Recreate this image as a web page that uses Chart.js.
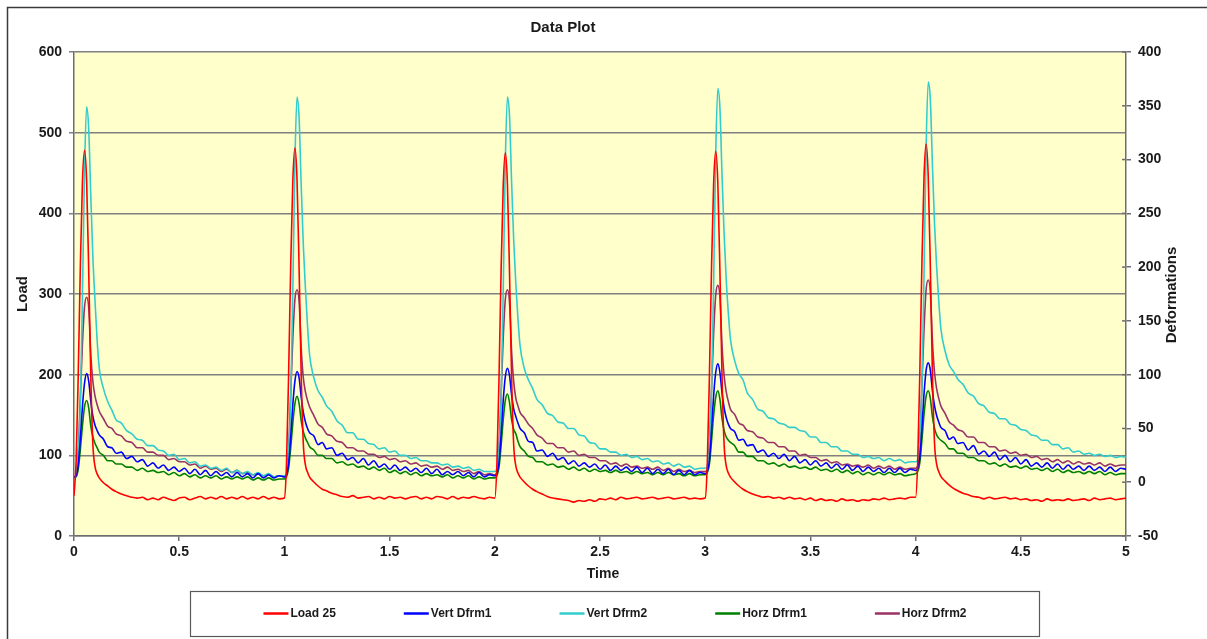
<!DOCTYPE html>
<html>
<head>
<meta charset="utf-8">
<title>Data Plot</title>
<script src="https://cdn.jsdelivr.net/npm/chart.js@4.4.1/dist/chart.umd.min.js"></script>
<style>
    html, body {
        margin: 0;
        padding: 0;
        background: #ffffff;
    }
    #plot {
        display: block;
    }
</style>
</head>
<body>
<canvas id="plot" width="1207" height="639"></canvas>
<script>
// Sample times (s), five load cycles of 1 s each
const time = [
    0, 0.01, 0.02, 0.03, 0.04, 0.05, 0.06, 0.07, 0.08, 0.09, 0.1, 0.11, 0.12, 0.14, 0.16, 0.18, 0.2, 0.225, 0.25, 0.275, 0.3, 0.325, 0.35, 0.375, 0.4, 0.425, 0.45, 0.475, 0.5, 0.525, 0.55, 0.575, 0.6, 0.625, 0.65, 0.675, 0.7, 0.725, 0.75, 0.775, 0.8, 0.825, 0.85, 0.875, 0.9, 0.925, 0.95, 0.975,
    1, 1.01, 1.02, 1.03, 1.04, 1.05, 1.06, 1.07, 1.08, 1.09, 1.1, 1.11, 1.12, 1.14, 1.16, 1.18, 1.2, 1.225, 1.25, 1.275, 1.3, 1.325, 1.35, 1.375, 1.4, 1.425, 1.45, 1.475, 1.5, 1.525, 1.55, 1.575, 1.6, 1.625, 1.65, 1.675, 1.7, 1.725, 1.75, 1.775, 1.8, 1.825, 1.85, 1.875, 1.9, 1.925, 1.95, 1.975,
    2, 2.01, 2.02, 2.03, 2.04, 2.05, 2.06, 2.07, 2.08, 2.09, 2.1, 2.11, 2.12, 2.14, 2.16, 2.18, 2.2, 2.225, 2.25, 2.275, 2.3, 2.325, 2.35, 2.375, 2.4, 2.425, 2.45, 2.475, 2.5, 2.525, 2.55, 2.575, 2.6, 2.625, 2.65, 2.675, 2.7, 2.725, 2.75, 2.775, 2.8, 2.825, 2.85, 2.875, 2.9, 2.925, 2.95, 2.975,
    3, 3.01, 3.02, 3.03, 3.04, 3.05, 3.06, 3.07, 3.08, 3.09, 3.1, 3.11, 3.12, 3.14, 3.16, 3.18, 3.2, 3.225, 3.25, 3.275, 3.3, 3.325, 3.35, 3.375, 3.4, 3.425, 3.45, 3.475, 3.5, 3.525, 3.55, 3.575, 3.6, 3.625, 3.65, 3.675, 3.7, 3.725, 3.75, 3.775, 3.8, 3.825, 3.85, 3.875, 3.9, 3.925, 3.95, 3.975,
    4, 4.01, 4.02, 4.03, 4.04, 4.05, 4.06, 4.07, 4.08, 4.09, 4.1, 4.11, 4.12, 4.14, 4.16, 4.18, 4.2, 4.225, 4.25, 4.275, 4.3, 4.325, 4.35, 4.375, 4.4, 4.425, 4.45, 4.475, 4.5, 4.525, 4.55, 4.575, 4.6, 4.625, 4.65, 4.675, 4.7, 4.725, 4.75, 4.775, 4.8, 4.825, 4.85, 4.875, 4.9, 4.925, 4.95, 4.975,
    5
];

// Load (left axis)
const load25 = [
    50, 92, 198, 332, 438, 478, 440, 328, 196, 112, 86, 77, 72, 66, 62, 58, 55, 52, 50, 48, 47, 48, 45, 47, 45, 48, 46, 44, 47, 48, 45, 47, 49, 46, 48, 46, 49, 46, 48, 46, 49, 46, 48, 46, 49, 46, 48, 46,
    47, 90, 200, 335, 440, 481, 442, 330, 198, 114, 88, 79, 73, 67, 62, 58, 56, 53, 51, 49, 48, 50, 47, 48, 49, 46, 48, 46, 49, 47, 48, 46, 48, 49, 46, 48, 46, 49, 48, 46, 49, 46, 48, 47, 49, 47, 46, 48,
    47, 89, 196, 330, 434, 475, 436, 326, 195, 112, 87, 78, 73, 67, 62, 58, 55, 52, 49, 47, 46, 45, 44, 42, 44, 43, 45, 43, 46, 45, 47, 45, 48, 46, 47, 48, 46, 47, 48, 46, 47, 48, 46, 47, 48, 46, 47, 46,
    47, 90, 198, 332, 436, 477, 438, 328, 197, 113, 87, 78, 73, 67, 62, 58, 55, 52, 50, 48, 49, 47, 48, 46, 48, 46, 47, 45, 47, 44, 46, 44, 45, 43, 46, 44, 45, 43, 45, 44, 46, 45, 47, 45, 46, 47, 46, 48,
    48, 92, 202, 338, 445, 486, 446, 334, 200, 115, 89, 80, 74, 68, 63, 59, 56, 53, 51, 49, 48, 46, 48, 46, 47, 48, 46, 47, 45, 46, 44, 45, 43, 46, 44, 45, 44, 46, 44, 45, 46, 44, 47, 45, 46, 47, 45, 46,
    47
];

// Deformations (right axis)
const vertDfrm1 = [
    5, 6, 16, 40, 70, 92, 101, 94, 75, 61, 53, 48, 44, 40, 33, 32, 27, 28, 22, 24, 19, 21, 15, 18, 13, 16, 11, 14, 10, 13, 8, 12, 7, 11, 6, 10, 6, 9, 5, 9, 5, 8, 4, 8, 4, 7, 4, 6,
    5, 7, 17, 42, 72, 94, 103, 97, 79, 65, 56, 50, 46, 43, 35, 37, 31, 32, 25, 27, 21, 23, 18, 22, 16, 20, 14, 17, 12, 16, 11, 14, 10, 13, 9, 13, 8, 12, 7, 10, 7, 10, 6, 9, 5, 9, 5, 7,
    6, 8, 18, 44, 76, 98, 106, 99, 81, 68, 61, 55, 50, 46, 38, 37, 29, 30, 24, 27, 21, 23, 17, 20, 15, 18, 14, 17, 12, 16, 11, 15, 11, 14, 10, 14, 9, 13, 8, 12, 8, 12, 7, 11, 7, 11, 7, 9,
    8, 10, 20, 48, 80, 102, 110, 102, 83, 69, 60, 54, 50, 47, 39, 40, 34, 35, 28, 30, 24, 27, 22, 26, 20, 24, 18, 21, 16, 20, 15, 18, 13, 17, 12, 16, 11, 15, 10, 14, 10, 13, 9, 13, 9, 13, 9, 12,
    11, 13, 23, 50, 82, 104, 111, 104, 85, 71, 62, 56, 51, 48, 40, 42, 36, 37, 30, 34, 26, 29, 24, 28, 21, 25, 19, 23, 17, 21, 15, 18, 14, 18, 13, 17, 12, 16, 12, 15, 11, 15, 11, 14, 10, 14, 10, 13,
    12
];

const vertDfrm2 = [
    4, 6, 25, 72, 172, 290, 349, 328, 265, 208, 168, 132, 106, 87, 75, 67, 58, 55, 48, 45, 40, 39, 34, 34, 30, 29, 25, 26, 21, 22, 18, 19, 15, 16, 13, 14, 11, 13, 9, 11, 8, 10, 7, 9, 6, 8, 5, 6,
    6, 8, 28, 76, 178, 298, 358, 338, 275, 220, 180, 145, 118, 97, 85, 79, 71, 66, 57, 53, 46, 46, 40, 40, 36, 35, 31, 32, 28, 29, 25, 25, 22, 23, 20, 20, 18, 18, 16, 17, 14, 15, 13, 14, 11, 12, 10, 10,
    10, 12, 30, 78, 178, 298, 358, 340, 278, 224, 184, 152, 127, 106, 95, 87, 77, 72, 64, 62, 56, 55, 50, 50, 44, 43, 37, 36, 31, 31, 28, 28, 25, 26, 23, 24, 21, 22, 19, 20, 17, 18, 15, 17, 14, 15, 12, 13,
    13, 15, 34, 84, 185, 305, 366, 348, 285, 230, 188, 157, 133, 113, 101, 95, 83, 77, 68, 66, 60, 59, 55, 54, 51, 51, 48, 47, 42, 42, 37, 37, 33, 33, 29, 29, 26, 26, 23, 24, 22, 23, 20, 22, 20, 21, 18, 19,
    19, 21, 40, 90, 192, 312, 372, 356, 295, 240, 200, 169, 143, 122, 109, 103, 96, 91, 83, 80, 73, 71, 65, 64, 59, 59, 54, 53, 49, 48, 44, 43, 39, 39, 35, 35, 31, 32, 28, 29, 26, 27, 25, 26, 24, 25, 23, 24,
    23
];

const horzDfrm1 = [
    4, 5, 12, 30, 52, 70, 76, 69, 52, 42, 36, 32, 28, 25, 20, 20, 17, 17, 14, 14, 11, 13, 10, 11, 9, 10, 7, 9, 6, 8, 5, 7, 4, 6, 4, 6, 3, 5, 3, 5, 3, 5, 2, 4, 2, 4, 2, 3,
    3, 5, 13, 32, 55, 73, 80, 73, 57, 47, 41, 37, 33, 30, 25, 25, 22, 22, 18, 19, 16, 17, 14, 15, 12, 14, 11, 13, 9, 11, 8, 10, 7, 9, 6, 8, 6, 7, 5, 7, 4, 6, 4, 6, 3, 5, 3, 4,
    4, 6, 14, 34, 58, 76, 82, 74, 58, 49, 45, 38, 33, 29, 24, 23, 19, 19, 16, 17, 14, 15, 12, 14, 11, 13, 10, 12, 10, 11, 9, 11, 9, 10, 8, 10, 8, 9, 7, 9, 7, 9, 7, 8, 6, 8, 6, 7,
    7, 9, 17, 38, 62, 79, 85, 77, 59, 48, 42, 39, 37, 34, 28, 28, 24, 24, 20, 20, 17, 18, 15, 17, 14, 15, 13, 14, 12, 14, 11, 12, 10, 12, 9, 11, 8, 10, 7, 9, 7, 9, 7, 9, 7, 8, 6, 7,
    8, 10, 18, 39, 63, 80, 85, 78, 61, 50, 44, 41, 39, 36, 31, 31, 27, 27, 23, 23, 20, 20, 17, 18, 15, 17, 14, 15, 13, 15, 12, 13, 11, 13, 10, 12, 9, 11, 9, 10, 8, 10, 8, 10, 7, 9, 7, 8,
    8
];

const horzDfrm2 = [
    4, 6, 28, 78, 128, 163, 172, 162, 118, 93, 80, 72, 66, 59, 52, 50, 45, 43, 38, 37, 32, 32, 28, 28, 25, 25, 21, 22, 19, 19, 16, 17, 13, 15, 12, 13, 10, 12, 9, 11, 8, 9, 7, 8, 6, 7, 5, 6,
    5, 7, 30, 82, 134, 170, 179, 168, 124, 97, 84, 76, 70, 62, 54, 51, 45, 43, 38, 37, 32, 32, 29, 29, 26, 26, 23, 24, 21, 22, 19, 20, 17, 18, 15, 16, 14, 15, 12, 14, 11, 12, 10, 11, 8, 10, 7, 8,
    7, 9, 32, 82, 134, 170, 179, 167, 121, 93, 78, 71, 65, 60, 54, 50, 44, 41, 36, 36, 32, 32, 28, 29, 25, 26, 23, 23, 20, 20, 17, 18, 15, 17, 14, 15, 13, 14, 12, 14, 11, 13, 10, 12, 10, 11, 9, 10,
    10, 12, 36, 86, 138, 174, 183, 172, 127, 99, 84, 75, 68, 63, 55, 53, 48, 47, 42, 41, 37, 37, 33, 33, 29, 29, 25, 26, 23, 23, 20, 21, 18, 19, 16, 17, 15, 16, 14, 16, 13, 15, 13, 15, 12, 14, 12, 13,
    13, 15, 38, 90, 142, 179, 188, 177, 131, 102, 87, 78, 71, 64, 56, 53, 49, 47, 42, 42, 37, 37, 33, 33, 29, 30, 27, 28, 25, 26, 23, 24, 21, 22, 19, 21, 18, 20, 17, 19, 17, 18, 16, 18, 15, 17, 15, 16,
    16
];

const seriesNames = ["Load 25", "Vert Dfrm1", "Vert Dfrm2", "Horz Dfrm1", "Horz Dfrm2"];
const seriesColors = ["#ff0000", "#0000ff", "#33cccc", "#008000", "#993366"];

const FONT = "'Liberation Sans', Arial, sans-serif";
const TEXT_COLOR = "#1a1a1a";
const AXIS_COLOR = "#6e6e6e";

function toPoints(values) {
    return time.map((t, i) => ({ x: t, y: values[i] }));
}

function makeDataset(index, values, axis) {
    return {
        label: seriesNames[index],
        data: toPoints(values),
        yAxisID: axis,
        borderColor: seriesColors[index],
        borderWidth: 1.6,
        pointRadius: 0,
        cubicInterpolationMode: "monotone",
        fill: false
    };
}

// Pale yellow plot area and the outer frame
const plotBackground = {
    id: "plotBackground",
    beforeDraw(chart) {
        const ctx = chart.ctx;
        const a = chart.chartArea;
        ctx.save();
        ctx.fillStyle = "#ffffcc";
        ctx.fillRect(a.left, a.top, a.right - a.left, a.bottom - a.top);

        ctx.strokeStyle = "#3a3a3a";
        ctx.lineWidth = 1.5;
        ctx.beginPath();
        ctx.moveTo(7.5, 640);
        ctx.lineTo(7.5, 7.5);
        ctx.lineTo(1207, 7.5);
        ctx.stroke();
        ctx.restore();
    }
};

// Title, axis titles, right axis inner ticks and the boxed legend
const decorations = {
    id: "decorations",
    afterDraw(chart) {
        const ctx = chart.ctx;
        const right = chart.scales.def;
        ctx.save();

        // short inner tick marks on the deformation axis
        ctx.strokeStyle = AXIS_COLOR;
        ctx.lineWidth = 1.5;
        right.ticks.forEach(tick => {
            const y = right.getPixelForValue(tick.value);
            ctx.beginPath();
            ctx.moveTo(right.left - 4, y);
            ctx.lineTo(right.left, y);
            ctx.stroke();
        });

        ctx.fillStyle = TEXT_COLOR;
        ctx.textAlign = "center";
        ctx.textBaseline = "middle";

        ctx.font = "bold 15px " + FONT;
        ctx.fillText("Data Plot", 563, 28);

        ctx.font = "bold 14px " + FONT;
        ctx.fillText("Time", 603, 574);

        ctx.font = "bold 15px " + FONT;
        ctx.save();
        ctx.translate(23, 294);
        ctx.rotate(-Math.PI / 2);
        ctx.fillText("Load", 0, 0);
        ctx.restore();

        ctx.save();
        ctx.translate(1172, 295);
        ctx.rotate(-Math.PI / 2);
        ctx.fillText("Deformations", 0, 0);
        ctx.restore();

        // legend box
        ctx.strokeStyle = "#5a5a5a";
        ctx.lineWidth = 1.2;
        ctx.strokeRect(190.5, 591.5, 849, 45);

        ctx.font = "bold 12px " + FONT;
        ctx.textAlign = "left";
        const lineLen = 25;
        const gap = 68;
        const widths = chart.data.datasets.map(ds =>
            lineLen + 2 + ctx.measureText(ds.label).width);
        const total = widths.reduce((s, w) => s + w, 0) + gap * (widths.length - 1);
        let x = 615 - total / 2;
        const y = 613.5;
        chart.data.datasets.forEach((ds, i) => {
            ctx.strokeStyle = ds.borderColor;
            ctx.lineWidth = 2.5;
            ctx.beginPath();
            ctx.moveTo(x, y);
            ctx.lineTo(x + lineLen, y);
            ctx.stroke();
            ctx.fillStyle = TEXT_COLOR;
            ctx.fillText(ds.label, x + lineLen + 2, y);
            x += widths[i] + gap;
        });

        ctx.restore();
    }
};

const tickFont = { family: FONT, size: 14, weight: "bold" };

new Chart(document.getElementById("plot"), {
    type: "line",
    data: {
        datasets: [
            makeDataset(0, load25, "load"),
            makeDataset(1, vertDfrm1, "def"),
            makeDataset(2, vertDfrm2, "def"),
            makeDataset(3, horzDfrm1, "def"),
            makeDataset(4, horzDfrm2, "def")
        ]
    },
    options: {
        responsive: false,
        animation: false,
        devicePixelRatio: 1,
        layout: { padding: { top: 52, left: 0, right: 0, bottom: 0 } },
        plugins: {
            legend: { display: false },
            title: { display: false },
            tooltip: { enabled: false }
        },
        scales: {
            x: {
                type: "linear",
                min: 0,
                max: 5,
                ticks: {
                    stepSize: 0.5,
                    font: tickFont,
                    color: TEXT_COLOR,
                    padding: 3,
                    maxRotation: 0,
                    // 0, 0.5, 1, 1.5 ... without trailing zeros
                    callback: value => String(Math.round(value * 10) / 10)
                },
                grid: {
                    drawOnChartArea: false,
                    tickLength: 5,
                    color: AXIS_COLOR,
                    lineWidth: 1.5
                },
                border: { color: AXIS_COLOR, width: 1.5 },
                afterFit(scale) { scale.height = 103; }
            },
            load: {
                position: "left",
                min: 0,
                max: 600,
                ticks: {
                    stepSize: 100,
                    font: tickFont,
                    color: TEXT_COLOR,
                    padding: 7
                },
                grid: {
                    color: "#808080",
                    lineWidth: 1.5,
                    tickLength: 5
                },
                border: { color: AXIS_COLOR, width: 1.5 },
                afterFit(scale) { scale.width = 74; }
            },
            def: {
                position: "right",
                min: -50,
                max: 400,
                ticks: {
                    stepSize: 50,
                    font: tickFont,
                    color: TEXT_COLOR,
                    padding: 7
                },
                grid: {
                    drawOnChartArea: false,
                    tickLength: 5,
                    color: AXIS_COLOR,
                    lineWidth: 1.5
                },
                border: { color: AXIS_COLOR, width: 1.5 },
                afterFit(scale) { scale.width = 81; }
            }
        }
    },
    plugins: [plotBackground, decorations]
});
</script>
</body>
</html>
